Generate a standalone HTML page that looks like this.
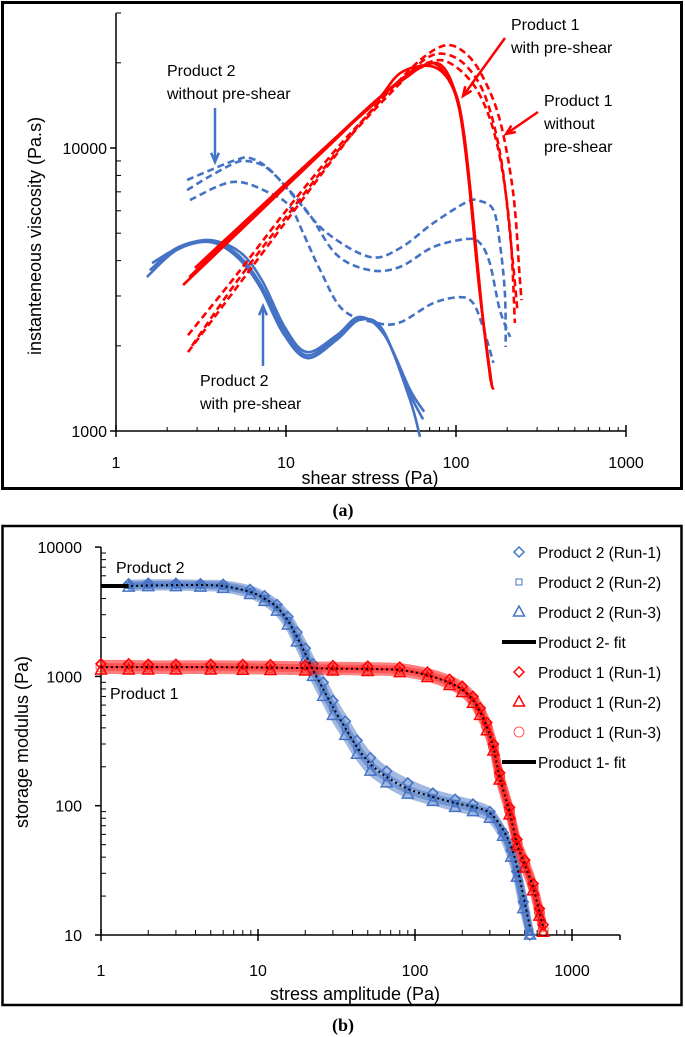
<!DOCTYPE html>
<html><head><meta charset="utf-8"><style>
html,body{margin:0;padding:0;background:#fff;}
svg{display:block;font-family:"Liberation Sans",sans-serif;}
</style></head><body>
<svg id="fig" width="685" height="1037" viewBox="0 0 685 1037">
<rect x="2.5" y="2.5" width="679" height="486" fill="none" stroke="#000" stroke-width="3"/>
<rect x="2.5" y="526" width="679" height="479" fill="none" stroke="#000" stroke-width="2.5"/>
<g id="ga"></g>
<g id="gb"></g>
<text x="343" y="516" text-anchor="middle" font-family="Liberation Serif,serif" font-weight="bold" font-size="18">(a)</text>
<text x="343" y="1031" text-anchor="middle" font-family="Liberation Serif,serif" font-weight="bold" font-size="18">(b)</text>
</svg>
<script>
// ---------- Panel (a) data ----------
const aXTicks = [1, 10, 100, 1000];
const aYTicks = [1000, 10000];
const p2wo1X = [2.62,3.5,4.9,6.1,8,11.6,17.4,31.2,46.9,73.5,116,138,166,181,194,196];
const p2wo1Y = [7710,8300,9000,9220,8400,6550,5010,4120,4430,5430,6450,6500,6040,4620,3070,1980];
const p2wo2X = [2.62,3.5,4.9,5.8,7.5,10,13.8,19.9,31.2,46.9,73.5,116,138,158,181,208];
const p2wo2Y = [7100,7900,8800,9000,8600,7300,5800,4190,3700,3800,4470,4770,4620,3920,2680,2150];
const p2wo3X = [2.72,4.88,8.05,10.6,12.6,15.9,21.6,34.2,46.9,73.5,105.6,126,144,166];
const p2wo3Y = [6550,7590,6930,6190,5010,3700,2680,2410,2420,2830,2970,2830,2330,1740];
const p2w1X = [1.52,2.28,3.57,5.15,7.03,9.6,13.3,19.9,27.2,37.2,53.6,61.4];
const p2w1Y = [3500,4360,4650,4120,3230,2220,1810,2100,2470,2270,1290,953];
const p2w2X = [1.63,2.38,3.57,5.35,7.2,9.9,13.3,19.9,27.2,38,53.6,65];
const p2w2Y = [3920,4470,4730,4290,3420,2310,1900,2180,2530,2180,1400,1170];
const p2w3X = [1.58,2.3,3.57,5.2,7.1,9.8,13.3,19.9,27.2,37.5,53.6,64];
const p2w3Y = [3700,4450,4700,4200,3300,2260,1850,2150,2500,2230,1350,1100];
const p1w1X = [2.48,5,10,20,34.3,50,73,95.6,108,121,138,163];
const p1w1Y = [3280,4900,7300,10860,14800,17600,19970,16400,12560,6930,3070,1430];
const p1w2X = [2.91,5,10,20,34,47,70,90,105,118,135,158,166];
const p1w2Y = [3770,5100,7500,11000,14600,18400,19500,17500,13500,8000,3500,1600,1400];
const p1w3X = [2.7,5,10,20,35,55,80,100,112,125,142,160];
const p1w3Y = [3500,5000,7400,11000,15000,18500,19800,15500,11000,6000,2700,1500];
const p1wo1X = [2.65,5,10,20,28.4,45,65,88.6,115,144,181,217,237,243];
const p1wo1Y = [1900,3150,5500,9570,12560,17000,21000,23100,21500,17800,12560,6930,3500,2900];
const p1wo2X = [2.65,5,10,20,30,45,67.5,92,133,174,207,222];
const p1wo2Y = [2180,3500,6000,10000,13000,17000,19970,19970,16000,10400,5260,2410];
const p1wo3X = [2.8,5,10,20,30,45,65,85,115,150,185,213,230];
const p1wo3Y = [2000,3300,5700,9700,12800,16500,20500,21500,19500,15000,9000,4300,2650];

// ---------- Panel (b) data ----------
const bXTicks = [1, 10, 100, 1000];
const bYTicks = [10, 100, 1000, 10000];
const p2X = [1.5,2,3,4.3,6,8.9,11,13.2,15.5,17.7,20,22.4,26,30,36,42.7,52,66,90,130,180,234,300,364,410,446,490,540];
const p2Run1Y = [5200,5250,5250,5200,5150,4700,4200,3600,2900,2200,1650,1250,900,650,450,320,235,185,150,125,112,103,90,62,45,31,18,10];
const p2Run2Y = [5050,5100,5120,5100,5000,4520,4000,3420,2700,2000,1500,1110,790,570,395,280,207,165,133,115,104,96,86,63,46,32,19,10.5];
const p2Run3Y = [4900,4950,4950,4900,4800,4300,3800,3200,2500,1850,1350,1000,700,500,350,250,185,150,123,108,97,90,80,58,40,28,16,10];
const p2FitX = [1,1.5,2,3,4.3,6,8.9,11,13.2,15.5,17.7,20,22.4,26,30,36,42.7,52,66,90,130,180,234,300,364,410,446,490,540];
const p2FitY = [5000,5000,5050,5080,5090,5000,4500,4000,3440,2700,2020,1500,1120,800,580,400,284,210,167,135,117,105,98,88,65,48,34,20,11.5];
const p1X = [1,1.5,2,3,5,8,12,20,30,50,80,120,166,200,234,260,287,316,346,400,446,500,565,620,655];
const p1FitY = [1180,1180,1180,1180,1180,1175,1170,1160,1150,1140,1120,1020,890,790,658,530,405,280,167,90,51,35,23.5,15,11.5];
const p1Run1Y = [1250,1250,1240,1240,1240,1235,1230,1220,1210,1200,1180,1080,950,840,700,570,440,300,180,97,55,38,25,16,12];
const p1Run2Y = [1120,1120,1120,1120,1120,1115,1110,1100,1100,1090,1070,980,850,750,620,500,380,265,158,85,49,33,22,14,10.5];
const p1Run3Y = [1180,1180,1180,1180,1180,1175,1170,1160,1150,1140,1120,1030,900,800,665,535,410,285,170,92,52,36,24,15,11];
const legendLabels = ["Product 2 (Run-1)","Product 2 (Run-2)","Product 2 (Run-3)","Product 2- fit","Product 1 (Run-1)","Product 1 (Run-2)","Product 1 (Run-3)","Product 1- fit"];

const NS = "http://www.w3.org/2000/svg";
function mk(tag, attrs, parent) {
  const e = document.createElementNS(NS, tag);
  for (const k in attrs) e.setAttribute(k, attrs[k]);
  parent.appendChild(e);
  return e;
}
const L = Math.log10;
const axA = v => 116 + 170 * L(v);
const ayA = v => 431 - 283 * L(v / 1000);
const axB = v => 101 + 157 * L(v);
const ayB = v => 935 - 129.3 * L(v / 10);
const BLUE = "#4472c4", RED = "#ff0000";

function smoothPath(P) {
  let d = "M" + P[0][0].toFixed(1) + "," + P[0][1].toFixed(1);
  for (let i = 0; i < P.length - 1; i++) {
    const p0 = P[i - 1] || P[i], p1 = P[i], p2 = P[i + 1], p3 = P[i + 2] || p2;
    const c1 = [p1[0] + (p2[0] - p0[0]) / 6, p1[1] + (p2[1] - p0[1]) / 6];
    const c2 = [p2[0] - (p3[0] - p1[0]) / 6, p2[1] - (p3[1] - p1[1]) / 6];
    d += " C" + c1.map(v => v.toFixed(1)).join(",") + " " + c2.map(v => v.toFixed(1)).join(",") + " " + p2.map(v => v.toFixed(1)).join(",");
  }
  return d;
}

// ---------- panel (a) ----------
const ga = document.getElementById("ga");
let e;
e = mk("line", {x1:116, y1:431, x2:626, y2:431, stroke:"#000", "stroke-width":1.5}, ga);


e = mk("line", {x1:116, y1:13, x2:116, y2:431, stroke:"#000", "stroke-width":1.5}, ga);


for (let d = 1; d <= 100; d *= 10) for (let m = 2; m <= 9; m++) {
  const x = axA(d * m);
  mk("line", {x1:x, y1:431, x2:x, y2:427, stroke:"#000", "stroke-width":1}, ga);
}
aXTicks.forEach(v => {
  const x = axA(v);
  mk("line", {x1:x, y1:425, x2:x, y2:437, stroke:"#000", "stroke-width":1.5}, ga);
  e = mk("text", {x:x, y:468, "text-anchor":"middle", "font-size":16}, ga);
  e.textContent = v;
  
  
});
[1000,10000].forEach(d => { for (let m = 2; m <= 9; m++) { const v = d*m; if (v > 30500) continue; const y = ayA(v);
  mk("line", {x1:116, y1:y, x2:121, y2:y, stroke:"#000", "stroke-width":1}, ga);} });
mk("line", {x1:116, y1:13, x2:121, y2:13, stroke:"#000", "stroke-width":1}, ga);
aYTicks.forEach(v => {
  const y = ayA(v);
  mk("line", {x1:110, y1:y, x2:116, y2:y, stroke:"#000", "stroke-width":1.5}, ga);
  e = mk("text", {x:107, y:y + 6, "text-anchor":"end", "font-size":16}, ga);
  e.textContent = v;
  
  
});
e = mk("text", {x:370, y:484, "text-anchor":"middle", "font-size":18}, ga);
e.textContent = "shear stress (Pa)";


e = mk("text", {x:0, y:0, "text-anchor":"middle", "font-size":18, transform:"translate(41,236) rotate(-90)"}, ga);
e.textContent = "instanteneous viscosity (Pa.s)";



function lineA(xs, ys, color, dashed, name) {
  const P = xs.map((v, i) => [axA(v), ayA(ys[i])]);
  const el = mk("path", {d:smoothPath(P), fill:"none", stroke:color, "stroke-width":2.6,
    "stroke-dasharray": dashed ? "7 4" : "none", "stroke-linejoin":"round"}, ga);
  
  
}
lineA(p2wo1X, p2wo1Y, BLUE, true, "product2-without-preshear-run1");
lineA(p2wo2X, p2wo2Y, BLUE, true, "product2-without-preshear-run2");
lineA(p2wo3X, p2wo3Y, BLUE, true, "product2-without-preshear-run3");
lineA(p2w1X, p2w1Y, BLUE, false, "product2-with-preshear-run1");
lineA(p2w2X, p2w2Y, BLUE, false, "product2-with-preshear-run2");
lineA(p2w3X, p2w3Y, BLUE, false, "product2-with-preshear-run3");
lineA(p1wo1X, p1wo1Y, RED, true, "product1-without-preshear-run1");
lineA(p1wo2X, p1wo2Y, RED, true, "product1-without-preshear-run2");
lineA(p1wo3X, p1wo3Y, RED, true, "product1-without-preshear-run3");
lineA(p1w1X, p1w1Y, RED, false, "product1-with-preshear-run1");
lineA(p1w2X, p1w2Y, RED, false, "product1-with-preshear-run2");
lineA(p1w3X, p1w3Y, RED, false, "product1-with-preshear-run3");

function annot(lines, x, y0, name) {
  const t = mk("text", {x:x, y:y0, "font-size":16}, ga);
  lines.forEach((s, i) => { const sp = mk("tspan", {x:x, dy: i ? 23 : 0}, t); sp.textContent = s; });
  
  
}
function arrow(x1, y1, x2, y2, color, name) {
  const g = mk("g", {}, ga);
  mk("line", {x1:x1, y1:y1, x2:x2, y2:y2, stroke:color, "stroke-width":2.5}, g);
  const a = Math.atan2(y2 - y1, x2 - x1), s = 10;
  const p = [[x2, y2],[x2 - s*Math.cos(a - 0.4), y2 - s*Math.sin(a - 0.4)],[x2 - s*Math.cos(a + 0.4), y2 - s*Math.sin(a + 0.4)]];
  mk("polyline", {points:p[1].join(",") + " " + p[0].join(",") + " " + p[2].join(","), fill:"none", stroke:color, "stroke-width":2.5}, g);
  
  
}
annot(["Product 2", "without pre-shear"], 167, 76, "label-product2-without-preshear");
arrow(215, 108, 215, 162, BLUE, "arrow-product2-without-preshear");
annot(["Product 1", "with pre-shear"], 511, 30, "label-product1-with-preshear");
arrow(505, 38, 463, 96, RED, "arrow-product1-with-preshear");
annot(["Product 1", "without", "pre-shear"], 544, 106, "label-product1-without-preshear");
arrow(538, 112, 506, 134, RED, "arrow-product1-without-preshear");
annot(["Product 2", "with pre-shear"], 200, 386, "label-product2-with-preshear");
arrow(263, 366, 263, 306, BLUE, "arrow-product2-with-preshear");

// ---------- panel (b) ----------
const gb = document.getElementById("gb");
e = mk("line", {x1:101, y1:935, x2:620, y2:935, stroke:"#000", "stroke-width":1.5}, gb);


mk("line", {x1:620, y1:935, x2:620, y2:940, stroke:"#000", "stroke-width":1.5}, gb);
e = mk("line", {x1:101, y1:547, x2:101, y2:935, stroke:"#000", "stroke-width":1.5}, gb);


for (let d = 1; d <= 1000; d *= 10) for (let m = 2; m <= 9; m++) {
  const x = axB(d * m); if (x > 618) continue;
  mk("line", {x1:x, y1:935, x2:x, y2:930, stroke:"#000", "stroke-width":1}, gb);
}
bXTicks.forEach(v => {
  const x = axB(v);
  mk("line", {x1:x, y1:929, x2:x, y2:941, stroke:"#000", "stroke-width":1.5}, gb);
  e = mk("text", {x:x, y:976, "text-anchor":"middle", "font-size":16}, gb);
  e.textContent = v;
  
  
});
[10,100,1000].forEach(d => { for (let m = 2; m <= 9; m++) { const y = ayB(d*m);
  mk("line", {x1:101, y1:y, x2:106, y2:y, stroke:"#000", "stroke-width":1}, gb);} });
bYTicks.forEach(v => {
  const y = ayB(v);
  mk("line", {x1:95, y1:y, x2:101, y2:y, stroke:"#000", "stroke-width":1.5}, gb);
  e = mk("text", {x:82, y:y + 6, "text-anchor":"end", "font-size":16}, gb);
  e.textContent = v;
  
  
});
e = mk("text", {x:355, y:1000, "text-anchor":"middle", "font-size":18}, gb);
e.textContent = "stress amplitude (Pa)";


e = mk("text", {x:0, y:0, "text-anchor":"middle", "font-size":18, transform:"translate(28,742) rotate(-90)"}, gb);
e.textContent = "storage modulus (Pa)";


e = mk("text", {x:116, y:573, "font-size":16}, gb);
e.textContent = "Product 2";


e = mk("text", {x:110, y:699, "font-size":16}, gb);
e.textContent = "Product 1";



function marker(shape, cx, cy, color, parent) {
  if (shape === "diamond") return mk("polygon", {points:`${cx},${cy-5} ${cx+5},${cy} ${cx},${cy+5} ${cx-5},${cy}`, fill:"none", stroke:color, "stroke-width":1.5}, parent);
  if (shape === "square") return mk("rect", {x:cx-3, y:cy-3, width:6, height:6, fill:"none", stroke:color, "stroke-width":1}, parent);
  if (shape === "triangle") return mk("polygon", {points:`${cx},${cy-6} ${cx+5.5},${cy+4} ${cx-5.5},${cy+4}`, fill:"none", stroke:color, "stroke-width":1.5}, parent);
  return mk("circle", {cx:cx, cy:cy, r:5, fill:"none", stroke:color, "stroke-width":1}, parent);
}
function runB(xs, ys, shape, color, name) {
  const g = mk("g", {}, gb);
  const P = xs.map((v, i) => [axB(v), ayB(ys[i])]);
  mk("path", {d:smoothPath(P), fill:"none", stroke:color, "stroke-width":8, "stroke-opacity":0.5, "stroke-linejoin":"round"}, g);
  xs.forEach((v, i) => marker(shape, axB(v), ayB(ys[i]), color, g));
  
  
}
function fitB(xs, ys, name) {
  const P = xs.map((v, i) => [axB(v), ayB(ys[i])]);
  const el = mk("path", {d:smoothPath(P), fill:"none", stroke:"#000", "stroke-width":2, "stroke-dasharray":"2 3"}, gb);
  
  
}
runB(p2X, p2Run3Y, "triangle", BLUE, "product2-run3");
runB(p2X, p2Run2Y, "square", BLUE, "product2-run2");
runB(p2X, p2Run1Y, "diamond", BLUE, "product2-run1");
runB(p1X, p1Run3Y, "circle", "#ff6060", "product1-run3");
runB(p1X, p1Run2Y, "triangle", RED, "product1-run2");
runB(p1X, p1Run1Y, "diamond", RED, "product1-run1");
fitB(p2FitX, p2FitY, "product2-fit");
fitB(p1X, p1FitY, "product1-fit");
e = mk("line", {x1:axB(1), y1:ayB(p2FitY[0]), x2:axB(1.5), y2:ayB(p2FitY[1]), stroke:"#000", "stroke-width":4}, gb);



const lg = mk("g", {}, gb);


const lShapes = ["diamond","square","triangle","line","diamond","triangle","circle","line"];
const lColors = [BLUE, BLUE, BLUE, "#000", RED, RED, "#ff6060", "#000"];
legendLabels.forEach((s, i) => {
  const y = 552 + i * 30;
  const g = mk("g", {}, lg);
  if (lShapes[i] === "line") mk("line", {x1:502, y1:y, x2:536, y2:y, stroke:"#000", "stroke-width":4}, g);
  else marker(lShapes[i], 519, y, lColors[i], g);
  const t = mk("text", {x:538, y:y + 6, "font-size":15.5}, g);
  t.textContent = s;
  
  
});
</script>
</body></html>
